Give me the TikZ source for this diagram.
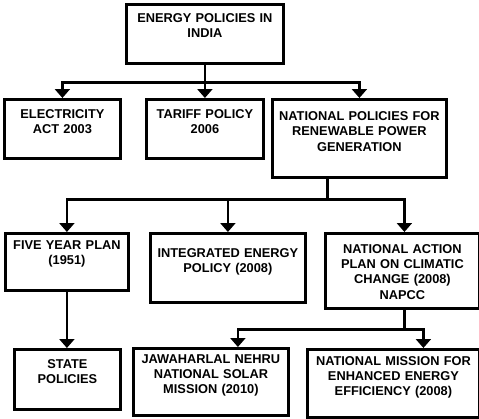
\documentclass[tikz,border=0pt]{standalone}
\usepackage{fontspec}
\setmainfont{Liberation Sans}
\usetikzlibrary{arrows.meta}
\tikzset{
   policy/.style={draw, line width=2.8pt, anchor=north west, align=center,
      inner xsep=0pt, inner ysep=0pt,
      font=\bfseries\fontsize{12.8}{15.2}\selectfont},
   link/.style={line width=2.8pt},
   flow/.style={link, -{Triangle[width=15pt, length=9pt]}}
}
\begin{document}
\begin{tikzpicture}[x=1pt, y=-1pt]
   \useasboundingbox (0,0) rectangle (479,418);
   % Top level
   \node[policy, text width=157pt, text height=17.7pt, text depth=41.3pt] (india) at (125,3) {ENERGY POLICIES IN\\INDIA};

   % Second row
   \node[policy, text width=116pt, text height=18.7pt, text depth=40.3pt] (elec) at (3,98) {ELECTRICITY\\ACT 2003};
   \node[policy, text width=117pt, text height=18.7pt, text depth=40.3pt] (tariff) at (145,98) {TARIFF POLICY\\2006};
   \node[policy, text width=174pt, text height=21.3pt, text depth=56.7pt] (natpol) at (271,98) {NATIONAL POLICIES FOR\\RENEWABLE POWER\\GENERATION};

   % Third row
   \node[policy, text width=123pt, text height=16.3pt, text depth=40.7pt] (fyp) at (4,232) {FIVE YEAR PLAN\\(1951)};
   \node[policy, text width=155pt, text height=24pt, text depth=45pt] (iep) at (149,232) {INTEGRATED ENERGY\\POLICY (2008)};
   \node[policy, text width=154pt, text height=20pt, text depth=55pt] (napcc) at (324,232) {NATIONAL ACTION\\PLAN ON CLIMATIC\\CHANGE (2008)\\NAPCC};

   % Fourth row
   \node[policy, text width=106pt, text height=19pt, text depth=41pt] (state) at (13,348) {STATE\\POLICIES};
   \node[policy, text width=155pt, text height=14.7pt, text depth=52.3pt] (jnnsm) at (132,347) {JAWAHARLAL NEHRU\\NATIONAL SOLAR\\MISSION (2010)};
   \node[policy, text width=172pt, text height=16pt, text depth=52pt] (nmeee) at (306,348) {NATIONAL MISSION FOR\\ENHANCED ENERGY\\EFFICIENCY (2008)};

   % Connectors
   \draw[flow] (india.south) -- ++(0,18) -| (elec.north);
   \draw[flow] (india.south) -- (india.south |- tariff.north);
   \draw[flow] (india.south) -- ++(0,18) -| (natpol.north);

   \draw[flow] ([xshift=-32pt]natpol.south) -- ++(0,21) -| (fyp.north);
   \draw[flow] ([xshift=-32pt]natpol.south) -- ++(0,21) -| (iep.north);
   \draw[flow] ([xshift=-32pt]natpol.south) -- ++(0,21) -| ([xshift=2pt]napcc.north);

   \draw[flow] (fyp.south) -- (fyp.south |- state.north);

   \draw[flow] ([xshift=2pt]napcc.south) -- ++(0,20) -| ([xshift=27pt]jnnsm.north);
   \draw[flow] ([xshift=2pt]napcc.south) -- ++(0,20) -| ([xshift=30pt]nmeee.north);
\end{tikzpicture}
\end{document}
